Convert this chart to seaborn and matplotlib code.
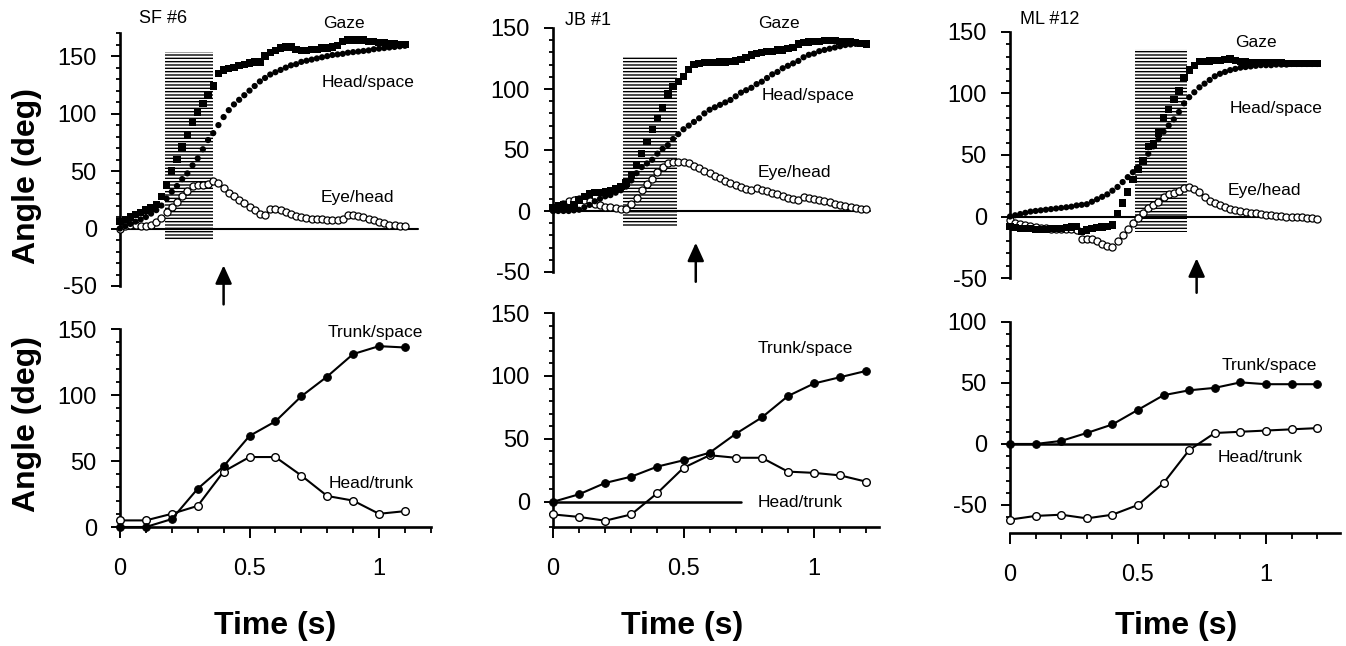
import numpy as np
import matplotlib
matplotlib.use("Agg")
import matplotlib.pyplot as plt
import seaborn as sns
from matplotlib.patches import Rectangle

sns.set_style("ticks")
plt.rcParams["font.family"] = ["Liberation Sans", "DejaVu Sans"]
plt.rcParams["hatch.linewidth"] = 1.0
plt.rcParams["axes.unicode_minus"] = False
plt.rcParams["text.color"] = "black"
plt.rcParams["axes.labelcolor"] = "black"
plt.rcParams["xtick.color"] = "black"
plt.rcParams["ytick.color"] = "black"
plt.rcParams["axes.edgecolor"] = "black"

W, H = 1346, 646

# ---------------- data ----------------
panel_ids = ["SF #6", "JB #1", "ML #12"]
DT = 0.02  # sampling interval of the top-panel traces (s)

gaze_sf6 = [6, 8, 10, 12, 14, 16, 18, 21, 28, 38, 50, 60, 71, 82, 92, 101, 109, 116, 124, 135,
            138, 139, 140, 142, 143, 144, 145, 145, 150, 153, 155, 157, 158, 158, 156, 155, 155, 156, 156, 157,
            157, 158, 159, 163, 164, 164, 164, 164, 163, 163, 162, 162, 161, 161, 160, 160]
head_sf6 = [0, 2, 4, 6, 8, 10, 13, 16, 20, 26, 32, 37, 43, 48, 55, 61, 69, 77, 83, 90,
            97, 103, 108, 112, 116, 120, 124, 128, 131, 134, 136, 138, 140, 142, 143, 145, 146, 147, 148, 149,
            150, 151, 151.5, 152, 153, 153.5, 154, 154.5, 155, 156, 156.5, 157, 157.5, 158, 158.5, 159]
eye_sf6 = [0, 2, 3, 3, 2, 2, 3, 6, 9, 14, 19, 23, 28, 33, 37, 38, 38, 39, 41, 40,
           35, 31, 28, 25, 22, 19, 16, 13, 12, 17, 17, 16, 14, 13, 11, 10, 9, 8.5, 8, 8,
           7.5, 7, 7, 8, 12, 12, 11, 10, 8.5, 7, 5.5, 4.5, 3.5, 3, 2.5, 2]

gaze_jb1 = [3, 4, 5, 3, 5, 9, 12, 14, 15, 15, 16, 17, 18, 20, 23, 29, 38, 47, 57, 67,
            76, 85, 96, 102, 106, 110, 116, 120, 121, 121.5, 121.5, 121.5, 122, 122, 122.5, 123, 124, 126, 128, 129,
            130, 131, 131, 132, 132, 133, 134, 137, 138, 138.5, 139, 139, 139.5, 139.5, 139.5, 139, 139, 138.5, 138, 137.5,
            137]
head_jb1 = [0, 0, 0, 0, 0.5, 1, 3, 5, 8, 10, 12, 13, 15, 17, 20, 25, 31, 36, 39, 42,
            47, 51, 54, 59, 63, 67, 70, 73, 76, 80, 83, 85, 87, 89, 91, 94, 97, 99, 101, 104,
            106, 109, 112, 114, 117, 119, 121, 123, 126, 128, 129, 131, 132, 133, 134, 135, 136, 136.5, 137, 137,
            137]
eye_jb1 = [2, 4, 6, 8, 9, 9.5, 9, 8, 6, 5, 3.5, 3, 2.5, 2, 1.5, 6, 11, 17, 22, 26,
           32, 36, 39, 40, 40, 40, 39, 37, 35, 33, 31, 29, 27, 25, 23, 21, 19.5, 18, 17, 19,
           17, 16, 15, 14, 12.5, 11, 10, 9, 11.5, 11, 10, 9, 8, 7, 6, 5, 4, 3, 2.5, 2,
           1.5]

gaze_ml12 = [-8, -9, -10, -10, -10, -10.5, -10.5, -10.5, -10, -10, -9.5, -9, -8.5, -8, -12, -11, -10, -9, -8.5, -8,
             -7, 2, 11, 20, 30, 38, 45, 57, 59, 68, 80, 87, 95, 102, 113, 119, 123, 126, 126, 126.5,
             127, 127, 127.5, 128, 127, 126, 125.5, 125, 125, 125, 125, 125, 125, 125, 124.5, 124.5, 124.5, 124.5, 124.5, 124.5,
             124.5]
head_ml12 = [0, 1, 2, 3, 4, 4.5, 5, 5.5, 6, 6.5, 7, 7.5, 8, 9, 9.5, 10, 12, 14, 16, 18,
             21, 24, 28, 32, 36, 40, 45, 51, 57, 63, 69, 74, 79, 85, 92, 97, 101, 105, 108, 111,
             114, 116, 117.5, 119, 120, 121, 121.5, 122, 122.5, 123, 123, 123, 123.5, 123.5, 123.5, 124, 124, 124, 124, 124,
             124]
eye_ml12 = [-3, -5, -6, -7, -8, -8.5, -9, -9.5, -10, -10, -10.5, -10.5, -10.5, -11, -18, -18, -18, -20, -22, -24,
            -25, -20, -15, -10, -5, -1, 3, 7, 9, 12, 16, 18, 19.5, 21, 23, 24, 22.5, 20, 16, 13,
            11, 9.5, 8, 6.5, 5.5, 4.5, 3.5, 3, 2.5, 2, 1.5, 1, 0.5, 0.5, 0, 0, -0.5, -0.5, -1, -1.5,
            -2]

trunk_time_sf6 = [0.0, 0.1, 0.2, 0.3, 0.4, 0.5, 0.6, 0.7, 0.8, 0.9, 1.0, 1.1]
trunk_sf6 = [0, 0, 6, 29, 46, 69, 80, 99, 114, 131, 137, 136]
headtrunk_sf6 = [5, 5, 10, 16, 42, 53, 53, 39, 23.5, 20, 10, 12]

trunk_time_jb1 = [0.0, 0.1, 0.2, 0.3, 0.4, 0.5, 0.6, 0.7, 0.8, 0.9, 1.0, 1.1, 1.2]
trunk_jb1 = [0, 6, 15, 20, 28, 33, 39, 54, 67, 84, 94, 99, 104]
headtrunk_jb1 = [-10, -12, -15, -10, 7, 27, 37, 35, 35, 24, 23, 21, 16]

trunk_time_ml12 = [0.0, 0.1, 0.2, 0.3, 0.4, 0.5, 0.6, 0.7, 0.8, 0.9, 1.0, 1.1, 1.2]
trunk_ml12 = [0, 0, 2.5, 9, 16, 28, 40, 44, 46, 50.5, 49, 49, 49]
headtrunk_ml12 = [-62, -59, -58, -61, -58, -50, -32, -5, 9, 10, 11, 12, 13]

# gaze-shift (shaded) intervals: t_start, t_end, angle_low, angle_high
shade_sf6 = (0.174, 0.359, -10, 154)
shade_jb1 = (0.267, 0.474, -12, 126)
shade_ml12 = (0.49, 0.69, -13, 136)
# arrow time marks
arrow_times = [0.40, 0.547, 0.729]

gazes = [gaze_sf6, gaze_jb1, gaze_ml12]
heads = [head_sf6, head_jb1, head_ml12]
eyes = [eye_sf6, eye_jb1, eye_ml12]
shades = [shade_sf6, shade_jb1, shade_ml12]
trunk_times = [trunk_time_sf6, trunk_time_jb1, trunk_time_ml12]
trunks = [trunk_sf6, trunk_jb1, trunk_ml12]
headtrunks = [headtrunk_sf6, headtrunk_jb1, headtrunk_ml12]

# ---------------- layout (pixels) ----------------
XMAX = 1.3
col_left = [120, 553, 1010]
col_scale = [259, 261, 256]
top_rows = [(32, 286, -50, 171), (28, 272, -50, 150), (32, 278, -50, 150)]
bot_rows = [(329, 527, 0, 150), (313, 527, -20, 150), (322, 533, -73, 100)]
bot_left_bounds = [(0, 150), (-20, 150), (-62, 100)]
bot_x_end = [1.2, 1.25, 1.29]
zero_top_end = [1.15, 1.215, 1.195]
zero_bot_end = [None, 0.72, 0.78]
arrow_v = [(-32, -66), (-26, -58), (-34, -62)]

fig = plt.figure(figsize=(W / 100, H / 100), dpi=100)


def make_axes(left, scale, top, bot):
    return fig.add_axes([left / W, 1 - bot / H, XMAX * scale / W, (bot - top) / H])


def ftext(x, y, s, **kw):
    fig.text(x / W, 1 - y / H, s, **kw)


TICK_FS = 17
SPINE_LW = 1.9

for i in range(3):
    # ---------- top panel ----------
    top, bot, ylo, yhi = top_rows[i]
    ax = make_axes(col_left[i], col_scale[i], top, bot)
    ax.set_xlim(0, XMAX)
    ax.set_ylim(ylo, yhi)
    t = np.arange(len(gazes[i])) * DT
    t0, t1, v0, v1 = shades[i]
    ax.add_patch(Rectangle((t0, v0), t1 - t0, v1 - v0, facecolor="none",
                           edgecolor="black", linewidth=0, hatch="-----", zorder=1))
    ax.plot([0, zero_top_end[i]], [0, 0], color="black", lw=1.5, zorder=2)
    sns.scatterplot(x=t, y=eyes[i], marker="o", s=26, color="white", edgecolor="black",
                    linewidth=0.9, ax=ax, zorder=3, legend=False, clip_on=False)
    sns.scatterplot(x=t, y=heads[i], marker="o", s=20, color="black", edgecolor="none",
                    linewidth=0, ax=ax, zorder=4, legend=False, clip_on=False)
    sns.scatterplot(x=t, y=gazes[i], marker="s", s=28, color="black", edgecolor="none",
                    linewidth=0, ax=ax, zorder=5, legend=False, clip_on=False)
    ah, at = arrow_v[i]
    ax.annotate("", xy=(arrow_times[i], ah), xytext=(arrow_times[i], at),
                arrowprops=dict(arrowstyle="-|>,head_length=0.55,head_width=0.25",
                                mutation_scale=20, lw=1.8, color="black",
                                shrinkA=0, shrinkB=0),
                annotation_clip=False)
    for s in ["top", "right", "bottom"]:
        ax.spines[s].set_visible(False)
    ax.spines["left"].set_linewidth(SPINE_LW)
    ax.spines["left"].set_bounds(ylo, min(yhi, 170))
    ax.set_xticks([])
    ax.set_yticks(np.arange(-50, 151, 50))
    ax.set_yticks(np.arange(-50, min(yhi, 170) + 1, 10), minor=True)
    ax.tick_params(axis="y", which="major", length=6.7, width=1.4, pad=10,
                   labelsize=TICK_FS, color="black", labelcolor="black")
    ax.tick_params(axis="y", which="minor", length=3.2, width=1.3, color="black")
    ax.set_facecolor("none")
    ax.set_ylabel("")

    # ---------- bottom panel ----------
    top, bot, ylo, yhi = bot_rows[i]
    bx = make_axes(col_left[i], col_scale[i], top, bot)
    bx.set_xlim(0, XMAX)
    bx.set_ylim(ylo, yhi)
    if zero_bot_end[i] is not None:
        bx.plot([0, zero_bot_end[i]], [0, 0], color="black", lw=1.8, zorder=2)
    sns.lineplot(x=trunk_times[i], y=trunks[i], color="black", lw=1.5, marker="o",
                 markersize=5.5, markerfacecolor="black", markeredgecolor="black",
                 ax=bx, zorder=4, clip_on=False)
    sns.lineplot(x=trunk_times[i], y=headtrunks[i], color="black", lw=1.5, marker="o",
                 markersize=5.5, markerfacecolor="white", markeredgecolor="black",
                 markeredgewidth=1.0, ax=bx, zorder=3, clip_on=False)
    for s in ["top", "right"]:
        bx.spines[s].set_visible(False)
    bx.spines["left"].set_linewidth(SPINE_LW)
    bx.spines["bottom"].set_linewidth(SPINE_LW)
    bx.spines["left"].set_bounds(*bot_left_bounds[i])
    bx.spines["bottom"].set_bounds(0, bot_x_end[i])
    lb0, lb1 = bot_left_bounds[i]
    majors = [v for v in range(-50, 151, 50) if lb0 <= v <= lb1]
    bx.set_yticks(majors)
    bx.set_yticks([v for v in range(-60, 151, 10) if lb0 <= v <= lb1], minor=True)
    bx.set_xticks([0, 0.5, 1], ["0", "0.5", "1"])
    bx.set_xticks(np.round(np.arange(0, 1.21, 0.1), 2), minor=True)
    bx.tick_params(axis="y", which="major", length=6.7, width=1.4, pad=10,
                   labelsize=TICK_FS, color="black", labelcolor="black")
    bx.tick_params(axis="y", which="minor", length=3.2, width=1.3, color="black")
    bx.tick_params(axis="x", which="major", length=8, width=1.4, pad=14,
                   labelsize=TICK_FS, color="black", labelcolor="black")
    bx.tick_params(axis="x", which="minor", length=4.3, width=1.3, color="black")
    bx.set_xlabel("")
    bx.set_ylabel("")
    bx.set_facecolor("none")

# ---------------- text ----------------
LAB_FS = 12.5
title_pos = [(139, 23), (565, 25), (1020, 24)]
for (x, y), s in zip(title_pos, panel_ids):
    ftext(x, y, s, fontsize=13, va="baseline", ha="left", color="black")

top_labels = [
    [("Gaze", 323, 28), ("Head/space", 322, 87), ("Eye/head", 321, 202)],
    [("Gaze", 758, 28), ("Head/space", 762, 100), ("Eye/head", 758, 177)],
    [("Gaze", 1235, 47), ("Head/space", 1230, 113), ("Eye/head", 1228, 195)],
]
bot_labels = [
    [("Trunk/space", 328, 337), ("Head/trunk", 329, 488)],
    [("Trunk/space", 758, 353), ("Head/trunk", 758, 507)],
    [("Trunk/space", 1222, 370), ("Head/trunk", 1218, 462)],
]
for group in top_labels + bot_labels:
    for s, x, y in group:
        ftext(x, y, s, fontsize=LAB_FS, va="baseline", ha="left", color="black")

for y in [176, 424]:
    ftext(27, y, "Angle (deg)", fontsize=23, fontweight="bold", rotation=90,
          ha="center", va="center", color="black")
for x in [275, 682, 1176]:
    ftext(x, 626, "Time (s)", fontsize=23, fontweight="bold", ha="center", va="center",
          color="black")

fig.savefig("out.png", dpi=100)
